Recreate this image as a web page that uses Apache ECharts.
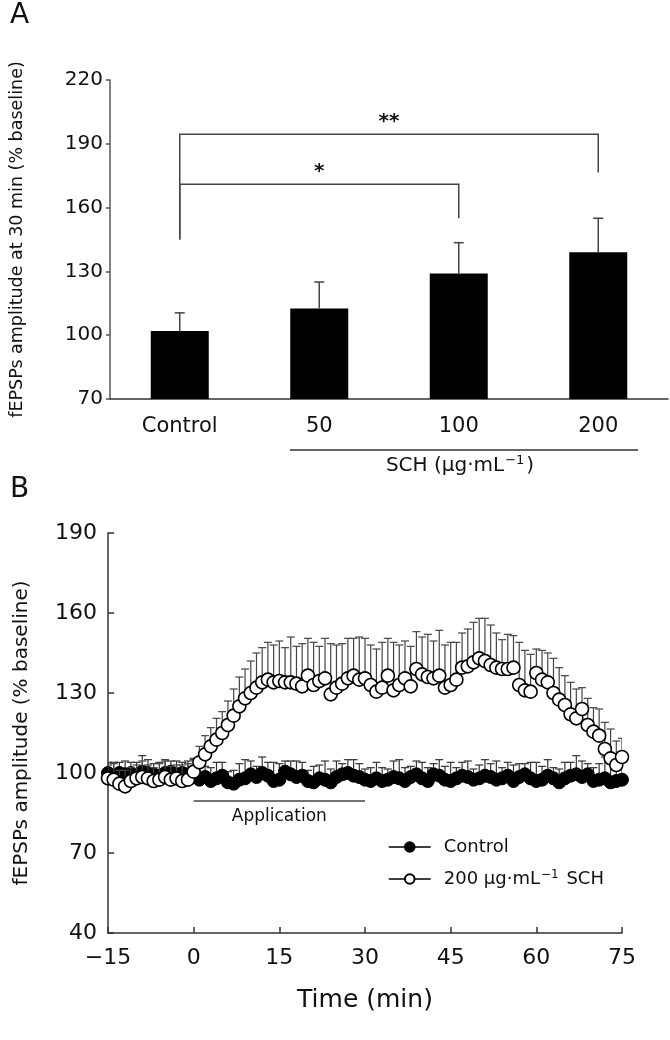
<!DOCTYPE html>
<html>
<head>
<meta charset="utf-8">
<script src="https://cdn.jsdelivr.net/npm/echarts@6/dist/echarts.min.js"></script>
<style>html,body{margin:0;padding:0;background:#fff;}#c{width:670px;height:1040px;}</style>
</head>
<body>
<div id="c"></div>
<script>
// ---------- Panel A data ----------
const categoriesA = ['Control', '50', '100', '200'];
const meansA = [102, 112.5, 129, 139];
const errsA = [8.5, 12.5, 14.5, 16];
const yTicksA = [70, 100, 130, 160, 190, 220];
// significance brackets: [fromCategory, toCategory, leftLow, top, rightLow]
const bracketsA = [[0, 2, 145, 171, 155], [0, 3, 145, 194.5, 176.5]];
const bracketLabelsA = ['*', '**'];

// ---------- Panel B data ----------
const timesB = [-15,-14,-13,-12,-11,-10,-9,-8,-7,-6,-5,-4,-3,-2,-1,
  0,1,2,3,4,5,6,7,8,9,10,11,12,13,14,15,16,17,18,19,20,21,22,23,24,25,26,27,28,29,
  30,31,32,33,34,35,36,37,38,39,40,41,42,43,44,45,46,47,48,49,50,51,52,53,54,55,56,57,58,59,
  60,61,62,63,64,65,66,67,68,69,70,71,72,73,74,75];
const controlMean = [100,99,100,99.5,100,99,100.5,100,99.5,99,100,100.5,99.5,100,99.5,
  100,97.5,98.5,97,98,99,96.5,96,97.5,98,99.5,98.5,100,99,97,97.5,100.5,99.5,98.5,99,
  97,96.5,98,97.5,96.5,98.5,99.5,100,99,98.5,97.5,97,98,97,97.5,98.5,98,97,98.5,99.5,
  98,97,99.5,99,97.5,97,98,99,98.5,97.5,98,99,98.5,97.5,98,99,97,98.5,99.5,98,
  97,97.5,99,98,96.5,98,99,99.5,98.5,99.5,97,97.5,98,96.5,97,97.5];
const controlErr = [4,5,4,5,4,5,6,5,4,5,5,4,5,4,5,
  5,6,4,5,6,5,4,5,6,7,5,4,6,5,7,6,4,5,6,5,
  4,6,5,7,5,6,4,5,6,5,4,5,6,5,4,6,7,5,4,5,
  6,5,4,6,5,7,4,5,6,4,5,6,5,7,4,5,6,5,4,6,
  7,5,6,4,5,6,5,7,6,4,5,6,8,7,6,5];
const schMean = [98,97.5,96,95,97,98,98.5,98,97,97.5,98.5,97.5,98,97,97.5,
  100.5,104,107,110,112.5,115,118,121.5,125,128,130,132,134,135,134,134.5,134,134,133.5,132.5,
  136.5,133,134.5,135.5,129.5,132,133.5,135.5,136.5,135,135.5,133,130.5,132,136.5,
  131,133,135.5,132.5,139,137,136,135.5,136.5,132,133,135,139.5,140,141.5,
  143,142,140.5,139.5,139,139,139.5,133,131,130.5,137.5,135,134,130,127.5,
  125.5,122,120.5,124,118,115.5,114,109,105.5,103,106];
const schErr = [5,6,5,6,5,5,6,5,5,6,6,5,5,6,6,
  5,6,7,7,8,8,9,10,11,11,12,13,13,14,14,15,13,17,14,16,
  14,16,13,15,19,16,15,15,14,16,15,15,16,17,14,18,15,14,15,14,
  14,16,14,17,16,16,14,13,14,15,15,16,15,13,11,13,12,16,15,14,
  9,11,11,13,12,11,12,11,8,10,9,10,10,11,9,7];
const xTicksB = [-15, 0, 15, 30, 45, 60, 75];
const yTicksB = [40, 70, 100, 130, 160, 190];
const application = {start: 0, end: 30, level: 89.5, label: 'Application'};

const FONT = '"DejaVu Sans", "Liberation Sans", Arial, sans-serif';
const INK = '#111';
const AX = '#333';

const chart = echarts.init(document.getElementById('c'), null, {renderer: 'canvas'});

function errRender(capHalf, color, width) {
  return function (params, api) {
    const x = api.value(0), y = api.value(1), e = api.value(2);
    const p0 = api.coord([x, y]);
    const p1 = api.coord([x, y + e]);
    return {
      type: 'group',
      children: [
        {type: 'line', shape: {x1: p0[0], y1: p0[1], x2: p1[0], y2: p1[1]}, style: {stroke: color, lineWidth: width}},
        {type: 'line', shape: {x1: p1[0] - capHalf, y1: p1[1], x2: p1[0] + capHalf, y2: p1[1]}, style: {stroke: color, lineWidth: width}}
      ]
    };
  };
}

const option = {
  animation: false,
  backgroundColor: '#fff',
  textStyle: {fontFamily: FONT, color: INK},
  grid: [
    {left: 108, top: 80, width: 560, height: 319},
    {left: 108, top: 533, width: 514, height: 400}
  ],
  xAxis: [
    {
      type: 'category', gridIndex: 0, data: categoriesA,
      axisLine: {onZero: false, lineStyle: {color: AX, width: 1.5}},
      axisTick: {show: false},
      axisLabel: {fontSize: 21, color: INK, margin: 17, fontFamily: FONT}
    },
    {
      type: 'value', gridIndex: 1, min: xTicksB[0], max: xTicksB[xTicksB.length - 1], interval: 15,
      splitLine: {show: false},
      axisLine: {onZero: false, lineStyle: {color: AX, width: 1.5}},
      axisTick: {inside: true, length: 6, lineStyle: {color: AX, width: 1.5}},
      axisLabel: {fontSize: 22, color: INK, margin: 14, fontFamily: FONT,
        formatter: v => v < 0 ? '\u2212' + Math.abs(v) : String(v)},
      name: 'Time (min)', nameLocation: 'middle', nameGap: 55,
      nameTextStyle: {fontSize: 25, color: INK, fontFamily: FONT}
    }
  ],
  yAxis: [
    {
      type: 'value', gridIndex: 0, min: yTicksA[0], max: yTicksA[yTicksA.length - 1], interval: 30,
      splitLine: {show: false},
      axisLine: {show: true, onZero: false, lineStyle: {color: '#555', width: 1.5}},
      axisTick: {show: true, length: 4, lineStyle: {color: '#555', width: 1.5}},
      axisLabel: {fontSize: 20, color: INK, margin: 7, fontFamily: FONT},
      name: 'fEPSPs amplitude at 30 min (% baseline)', nameLocation: 'middle', nameRotate: 90, nameGap: 84,
      nameTextStyle: {fontSize: 17.5, color: INK, fontFamily: FONT}
    },
    {
      type: 'value', gridIndex: 1, min: yTicksB[0], max: yTicksB[yTicksB.length - 1], interval: 30,
      splitLine: {show: false},
      axisLine: {show: true, onZero: false, lineStyle: {color: AX, width: 1.5}},
      axisTick: {show: true, inside: true, length: 6, lineStyle: {color: AX, width: 1.5}},
      axisLabel: {fontSize: 22, color: INK, margin: 11, fontFamily: FONT},
      name: 'fEPSPs amplitude (% baseline)', nameLocation: 'middle', nameRotate: 90, nameGap: 76,
      nameTextStyle: {fontSize: 20, color: INK, fontFamily: FONT}
    }
  ],
  legend: {
    left: 383, top: 832, orient: 'vertical', itemGap: 12, itemWidth: 42, itemHeight: 12,
    data: ['Control', '200 μg·mL−1 SCH'],
    lineStyle: {color: '#000', width: 1.5, opacity: 1},
    textStyle: {fontSize: 18, color: INK, fontFamily: FONT, padding: [0, 0, 0, 8], lineHeight: 20,
      rich: {
        n: {fontSize: 18, fontFamily: FONT, color: INK, lineHeight: 20},
        s: {fontSize: 12, fontFamily: FONT, color: INK, verticalAlign: 'top', lineHeight: 20, padding: [0, 2, 0, 1]}
      }},
    formatter: name => name === 'Control' ? name : '{n|200 μg·mL}{s|−1}{n| SCH}'
  },
  series: [
    // Panel A bars
    {
      type: 'bar', xAxisIndex: 0, yAxisIndex: 0, data: meansA, barWidth: 58,
      itemStyle: {color: '#000'}, z: 2
    },
    // Panel A error bars
    {
      type: 'custom', xAxisIndex: 0, yAxisIndex: 0, z: 3,
      data: meansA.map((m, i) => [i, m, errsA[i]]),
      encode: {x: 0, y: 1},
      renderItem: errRender(5, '#444', 1.5)
    },
    // Panel A significance brackets
    {
      type: 'custom', xAxisIndex: 0, yAxisIndex: 0, z: 4,
      data: bracketsA,
      encode: {x: [0, 1], y: [2, 3, 4]},
      renderItem: function (params, api) {
        const a = api.value(0), b = api.value(1);
        const lowL = api.value(2), top = api.value(3), lowR = api.value(4);
        const pL0 = api.coord([a, lowL]), pL1 = api.coord([a, top]);
        const pR1 = api.coord([b, top]), pR0 = api.coord([b, lowR]);
        const mid = (pL1[0] + pR1[0]) / 2;
        return {
          type: 'group',
          children: [
            {type: 'polyline', shape: {points: [pL0, pL1, pR1, pR0]}, style: {stroke: '#444', lineWidth: 1.5, fill: null}},
            {type: 'text', style: {text: bracketLabelsA[params.dataIndex], x: mid, y: pL1[1] - 2,
              textAlign: 'center', textVerticalAlign: 'bottom', verticalAlign: 'bottom',
              fontSize: 20, fontWeight: 'bold', fill: '#111', fontFamily: FONT}}
          ]
        };
      }
    },
    // Panel B control error bars
    {
      type: 'custom', xAxisIndex: 1, yAxisIndex: 1, z: 5, clip: true,
      data: timesB.map((t, i) => [t, controlMean[i], controlErr[i]]),
      encode: {x: 0, y: 1},
      renderItem: errRender(4, '#333', 1.2)
    },
    // Panel B control points
    {
      name: 'Control', type: 'line', xAxisIndex: 1, yAxisIndex: 1, z: 6,
      data: timesB.map((t, i) => [t, controlMean[i]]),
      symbol: 'circle', symbolSize: 13, showAllSymbol: true,
      lineStyle: {opacity: 0, width: 0},
      itemStyle: {color: '#000', borderColor: '#000', borderWidth: 1}
    },
    // Panel B SCH error bars
    {
      type: 'custom', xAxisIndex: 1, yAxisIndex: 1, z: 7, clip: true,
      data: timesB.map((t, i) => [t, schMean[i], schErr[i]]),
      encode: {x: 0, y: 1},
      renderItem: errRender(4, '#444', 1.2)
    },
    // Panel B SCH points
    {
      name: '200 μg·mL−1 SCH', type: 'line', xAxisIndex: 1, yAxisIndex: 1, z: 8,
      data: timesB.map((t, i) => [t, schMean[i]]),
      symbol: 'circle', symbolSize: 13, showAllSymbol: true,
      lineStyle: {opacity: 0, width: 0},
      itemStyle: {color: '#fff', borderColor: '#000', borderWidth: 1.6}
    },
    // Application bar
    {
      type: 'custom', xAxisIndex: 1, yAxisIndex: 1, z: 4,
      data: [[application.start, application.end, application.level]],
      encode: {x: [0, 1], y: 2},
      renderItem: function (params, api) {
        const p0 = api.coord([api.value(0), api.value(2)]);
        const p1 = api.coord([api.value(1), api.value(2)]);
        return {
          type: 'group',
          children: [
            {type: 'line', shape: {x1: p0[0], y1: p0[1], x2: p1[0], y2: p1[1]}, style: {stroke: '#444', lineWidth: 1.5}},
            {type: 'text', style: {text: application.label, x: (p0[0] + p1[0]) / 2, y: p0[1] + 7,
              textAlign: 'center', verticalAlign: 'top', fontSize: 17, fill: INK, fontFamily: FONT}}
          ]
        };
      }
    }
  ],
  graphic: [
    {type: 'text', left: 10, top: 2, style: {text: 'A', fontSize: 28, fill: INK, fontFamily: FONT}},
    {type: 'text', left: 10, top: 476, style: {text: 'B', fontSize: 28, fill: INK, fontFamily: FONT}},
    {type: 'line', shape: {x1: 290, y1: 450, x2: 638, y2: 450}, style: {stroke: '#333', lineWidth: 1.5}},
    {type: 'text', x: 460, y: 466, style: {
      text: '{n|SCH (μg·mL}{s|−1}{n|)}', align: 'center', verticalAlign: 'middle', textAlign: 'center', textVerticalAlign: 'middle',
      rich: {
        n: {fontSize: 20, fontFamily: FONT, fill: INK, lineHeight: 24},
        s: {fontSize: 13, fontFamily: FONT, fill: INK, verticalAlign: 'top', lineHeight: 24, padding: [0, 2, 0, 1]}
      }}}
  ]
};
chart.setOption(option);
</script>
</body>
</html>
